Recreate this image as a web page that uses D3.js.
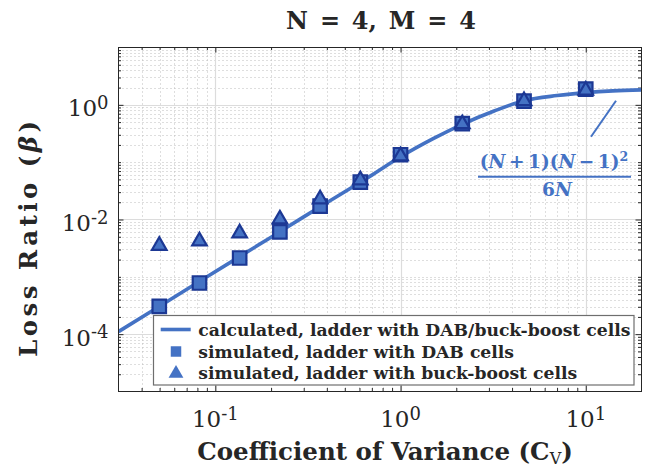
<!DOCTYPE html>
<html><head><meta charset="utf-8">
<script src="https://cdn.jsdelivr.net/npm/d3@7"></script>
<style>html,body{margin:0;padding:0;background:#fff}svg{display:block}</style>
</head><body>
<svg id="chart" width="657" height="470"></svg>
<script>
// ---- data ----
const cvSim = [0.0498, 0.0821, 0.1353, 0.2231, 0.3679, 0.6065, 1.0, 2.154, 4.642, 10.0];
const betaDAB = [3.05e-4, 7.8e-4, 2.13e-3, 6.07e-3, 0.0171, 0.0449, 0.1346, 0.469, 1.156, 1.875];
const betaBuckBoost = [3.51e-3, 4.18e-3, 5.77e-3, 0.0101, 0.0226, 0.0487, 0.128, 0.463, 1.17, 1.78];
const cvCalc = [0.03, 0.05, 0.08, 0.13, 0.2, 0.3, 0.5, 0.7, 1.0, 1.5, 2.154, 3.2, 4.642, 7.0, 10.0, 14.0, 20.0];
const betaCalc = [1.107e-4, 3.07e-4, 7.87e-4, 2.08e-3, 4.92e-3, 0.0111, 0.0305, 0.0595, 0.124, 0.257, 0.458, 0.78, 1.18, 1.45, 1.63, 1.75, 1.82];
const xTickValues = [0.1, 1, 10];
const xTickExponents = ["-1", "0", "1"];
const yTickValues = [1e-4, 1e-2, 1];
const yTickExponents = ["-4", "-2", "0"];
const legendLabels = ["calculated, ladder with DAB/buck-boost cells", "simulated, ladder with DAB cells", "simulated, ladder with buck-boost cells"];
const titleText = "N = 4, M = 4";

// ---- layout ----
const pLeft = 118.5, pRight = 641.5, pTop = 47.5, pBottom = 391.5;
const blue = "#4472C4", navy = "#1c3894", axisColor = "#262626";
const x = d3.scaleLog().domain([0.03, 20]).range([pLeft, pRight]);
const y = d3.scaleLog().domain([1e-5, 10]).range([pBottom, pTop]);
const svg = d3.select("#chart");
const serif = "'DejaVu Serif', serif";

const near = (a, b) => Math.abs(Math.log10(a) - Math.log10(b)) < 1e-6;
const inside = (v, dom) => v > dom[0] * 1.0001 && v < dom[1] * 0.9999;
const minorX = x.ticks().filter(v => !xTickValues.some(t => near(v, t)) && inside(v, x.domain()));
const minorY = y.ticks().filter(v => !yTickValues.some(t => near(v, t)) && inside(v, y.domain()));

// ---- grid ----
const grid = svg.append("g");
grid.selectAll(".mgx").data(minorX).join("line")
  .attr("x1", d => Math.round(x(d)) + 0.5).attr("x2", d => Math.round(x(d)) + 0.5)
  .attr("y1", pTop).attr("y2", pBottom)
  .attr("stroke", "#bcbcbc").attr("stroke-width", 1).attr("stroke-dasharray", "1,3");
grid.selectAll(".mgy").data(minorY).join("line")
  .attr("y1", d => Math.round(y(d)) + 0.5).attr("y2", d => Math.round(y(d)) + 0.5)
  .attr("x1", pLeft).attr("x2", pRight)
  .attr("stroke", "#bcbcbc").attr("stroke-width", 1).attr("stroke-dasharray", "1,3");
grid.selectAll(".Mgx").data(xTickValues).join("line")
  .attr("x1", d => Math.round(x(d)) + 0.5).attr("x2", d => Math.round(x(d)) + 0.5)
  .attr("y1", pTop).attr("y2", pBottom)
  .attr("stroke", "#dcdcdc").attr("stroke-width", 1.2);
grid.selectAll(".Mgy").data(yTickValues).join("line")
  .attr("y1", d => Math.round(y(d)) + 0.5).attr("y2", d => Math.round(y(d)) + 0.5)
  .attr("x1", pLeft).attr("x2", pRight)
  .attr("stroke", "#dcdcdc").attr("stroke-width", 1.2);

// ---- ticks ----
function tickGroup(axisFn, scale, vals, size, transform) {
  svg.append("g").attr("transform", transform)
    .call(axisFn(scale).tickValues(vals).tickSize(size).tickSizeOuter(0).tickFormat(""))
    .call(g => g.select(".domain").remove())
    .selectAll("line").attr("stroke", axisColor);
}
tickGroup(d3.axisBottom, x, minorX, -3, `translate(0,${pBottom - 0.5})`);
tickGroup(d3.axisBottom, x, xTickValues, -5.5, `translate(0,${pBottom - 0.5})`);
tickGroup(d3.axisTop, x, minorX, -3, `translate(0,${pTop - 0.5})`);
tickGroup(d3.axisTop, x, xTickValues, -5.5, `translate(0,${pTop - 0.5})`);
tickGroup(d3.axisLeft, y, minorY, -3, `translate(${pLeft - 0.5},0)`);
tickGroup(d3.axisLeft, y, yTickValues, -5.5, `translate(${pLeft - 0.5},0)`);
tickGroup(d3.axisRight, y, minorY, -3, `translate(${pRight - 0.5},0)`);
tickGroup(d3.axisRight, y, yTickValues, -5.5, `translate(${pRight - 0.5},0)`);

// ---- clip ----
svg.append("clipPath").attr("id", "plotclip").append("rect")
  .attr("x", pLeft).attr("y", pTop).attr("width", pRight - pLeft).attr("height", pBottom - pTop);

// ---- calculated curve ----
const calcData = cvCalc.map((c, i) => [c, betaCalc[i]]);
svg.append("path").datum(calcData)
  .attr("clip-path", "url(#plotclip)")
  .attr("d", d3.line().x(d => x(d[0])).y(d => y(d[1])).curve(d3.curveMonotoneX))
  .attr("fill", "none").attr("stroke", blue).attr("stroke-width", 3.6).attr("stroke-linecap", "butt");

// ---- markers ----
const sq = d3.symbol().type(d3.symbolSquare).size(13.5 * 13.5);
const tri = d3.symbol().type(d3.symbolTriangle).size(92);
svg.append("g").selectAll("path").data(cvSim.map((c, i) => [c, betaDAB[i]])).join("path")
  .attr("d", sq).attr("transform", d => `translate(${x(d[0])},${y(d[1])})`)
  .attr("fill", blue).attr("stroke", navy).attr("stroke-width", 2.2);
svg.append("g").selectAll("path").data(cvSim.map((c, i) => [c, betaBuckBoost[i]])).join("path")
  .attr("d", tri).attr("transform", d => `translate(${x(d[0])},${y(d[1])})`)
  .attr("fill", blue).attr("stroke", navy).attr("stroke-width", 2.2).attr("stroke-linejoin", "miter");

// ---- box ----
svg.append("rect").attr("x", pLeft).attr("y", pTop).attr("width", pRight - pLeft).attr("height", pBottom - pTop)
  .attr("fill", "none").attr("stroke", axisColor).attr("stroke-width", 1);

// ---- tick labels ----
const xl = svg.append("g").attr("font-family", serif).attr("fill", "#262626");
xTickValues.forEach((v, i) => {
  const t = xl.append("text").attr("x", x(v)).attr("y", 427).attr("text-anchor", "middle").attr("font-size", 23);
  t.append("tspan").text("10");
  t.append("tspan").attr("dy", -7.5).attr("font-size", 18).text(xTickExponents[i]);
});
yTickValues.forEach((v, i) => {
  const t = xl.append("text").attr("x", 108.5).attr("y", y(v) + 11.5).attr("text-anchor", "end").attr("font-size", 23);
  t.append("tspan").text("10");
  t.append("tspan").attr("dy", -7.5).attr("font-size", 18).text(yTickExponents[i]);
});

// ---- axis labels & title ----
const xlab = svg.append("text").attr("x", 385).attr("y", 460).attr("text-anchor", "middle")
  .attr("font-family", serif).attr("font-weight", "bold").attr("font-size", 24.5).attr("fill", "#262626");
xlab.append("tspan").text("Coefficient of Variance (C");
xlab.append("tspan").attr("dy", 4).attr("font-size", 16).attr("font-weight", "normal").text("V");
xlab.append("tspan").attr("dy", -4).text(")");

const ylab = svg.append("text").attr("transform", "translate(36.5,239) rotate(-90)").attr("text-anchor", "middle")
  .attr("font-family", serif).attr("font-weight", "bold").attr("font-size", 24.5).attr("fill", "#262626")
  .attr("textLength", 236).attr("lengthAdjust", "spacing");
ylab.append("tspan").text("Loss Ratio (");
ylab.append("tspan").attr("font-style", "italic").text("β");
ylab.append("tspan").text(")");

svg.append("text").attr("x", 381).attr("y", 29.3).attr("text-anchor", "middle")
  .attr("font-family", serif).attr("font-weight", "bold").attr("font-size", 24).attr("word-spacing", 3.5)
  .attr("fill", "#262626").text(titleText);

// ---- annotation ----
svg.append("line").attr("x1", 591).attr("y1", 136.7).attr("x2", 616).attr("y2", 100.7)
  .attr("stroke", blue).attr("stroke-width", 2);
const ann = svg.append("g").attr("font-family", serif).attr("font-weight", "bold").attr("font-size", 18.5).attr("fill", blue);
const num = ann.append("text").attr("x", 554).attr("y", 168).attr("text-anchor", "middle");
num.append("tspan").text("(");
num.append("tspan").attr("font-style", "italic").text("N");
num.append("tspan").attr("dx", 3.5).text("+");
num.append("tspan").attr("dx", 3.5).text("1)(");
num.append("tspan").attr("font-style", "italic").text("N");
num.append("tspan").attr("dx", 3.5).text("\u2212");
num.append("tspan").attr("dx", 3.5).text("1)");
num.append("tspan").attr("dy", -7.5).attr("font-size", 12.5).text("2");
ann.append("line").attr("x1", 478).attr("x2", 631).attr("y1", 176.7).attr("y2", 176.7)
  .attr("stroke", blue).attr("stroke-width", 2);
const den = ann.append("text").attr("x", 557).attr("y", 196).attr("text-anchor", "middle");
den.append("tspan").text("6");
den.append("tspan").attr("font-style", "italic").text("N");

// ---- legend ----
const lg = svg.append("g");
lg.append("rect").attr("x", 153.5).attr("y", 315.5).attr("width", 480.5).attr("height", 69.5)
  .attr("fill", "#fff").attr("stroke", "#6e6e6e").attr("stroke-width", 1.2);
const rowY = [329.5, 351.5, 372.5];
lg.append("line").attr("x1", 160.7).attr("x2", 190.7).attr("y1", rowY[0]).attr("y2", rowY[0])
  .attr("stroke", blue).attr("stroke-width", 3.6);
lg.append("path").attr("d", d3.symbol().type(d3.symbolSquare).size(110)).attr("transform", `translate(176,${rowY[1]})`).attr("fill", blue);
lg.append("path").attr("d", d3.symbol().type(d3.symbolTriangle).size(95)).attr("transform", `translate(176,${rowY[2] + 1})`).attr("fill", blue);
lg.selectAll("text").data(legendLabels).join("text")
  .attr("x", 198.3).attr("y", (d, i) => rowY[i] + 6.5)
  .attr("font-family", serif).attr("font-weight", "bold").attr("font-size", 17.2).attr("fill", "#262626")
  .text(d => d);
</script>
</body></html>
